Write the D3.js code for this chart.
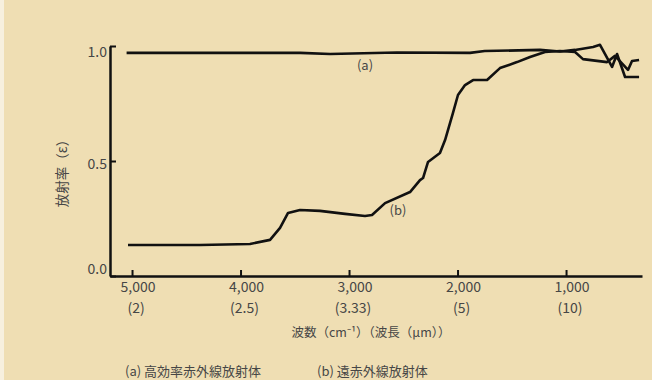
<!DOCTYPE html>
<html>
<head>
<meta charset="utf-8">
<script src="https://cdn.jsdelivr.net/npm/d3@7/dist/d3.min.js"></script>
<style>
  body { margin: 0; background: #efdeb3; }
  svg { display: block; }
  .num { font-family: "Liberation Sans Narrow", "Noto Sans CJK JP", sans-serif; font-size: 14px; fill: #464646; }
  .jp { font-family: "Noto Sans CJK JP", sans-serif; font-size: 13px; fill: #464646; }
</style>
</head>
<body>
<script>
// wavenumber ticks (cm-1) and matching wavelengths (um)
var waveTicks = [5000, 4000, 3000, 2000, 1000];
var lambdaLabels = ["(2)", "(2.5)", "(3.33)", "(5)", "(10)"];
var yTicks = [0, 0.5, 1.0];

// (a) 高効率赤外線放射体
var waveA = [5050, 4370, 3450, 3175, 2560, 1885, 1750, 1240, 1056, 917, 751, 687, 576, 530, 456, 327];
var emisA = [0.970, 0.970, 0.970, 0.965, 0.972, 0.970, 0.978, 0.983, 0.976, 0.983, 0.996, 1.005, 0.909, 0.965, 0.865, 0.865];

// (b) 遠赤外線放射体
var waveB = [5037, 4374, 3913, 3728, 3636, 3562, 3452, 3268, 3037, 2853, 2788, 2668, 2438, 2346, 2318, 2272, 2162, 2115, 2042, 1996, 1931, 1857, 1728, 1609, 1452, 1332, 1194, 1056, 917, 844, 622, 549, 429, 392, 327];
var emisB = [0.135, 0.135, 0.139, 0.157, 0.209, 0.274, 0.287, 0.283, 0.270, 0.261, 0.265, 0.317, 0.365, 0.417, 0.426, 0.496, 0.535, 0.591, 0.709, 0.787, 0.830, 0.852, 0.852, 0.904, 0.930, 0.952, 0.974, 0.978, 0.974, 0.943, 0.930, 0.957, 0.896, 0.935, 0.939];

var width = 652, height = 380;
var svg = d3.select("body").append("svg")
    .attr("width", width).attr("height", height);

svg.append("rect").attr("width", width).attr("height", height).attr("fill", "#efdeb3");
svg.append("rect").attr("width", 4).attr("height", height).attr("fill", "#f7f0de");

var x = d3.scaleLinear().domain([5203, 300]).range([110, 642]);
var y = d3.scaleLinear().domain([0, 1]).range([276, 46]);

// x axis
var gx = svg.append("g").attr("transform", "translate(0,276)")
  .call(d3.axisBottom(x).tickValues(waveTicks).tickSizeInner(-6).tickSizeOuter(0).tickFormat(function(){ return ""; }));
gx.selectAll("path, line").attr("stroke", "#111").attr("stroke-width", 2);
gx.select(".domain").attr("stroke-width", 2.5);

svg.selectAll("text.wn").data(waveTicks).enter().append("text")
  .attr("class", "num")
  .attr("x", function(d){ return x(d) + 6; })
  .attr("y", 292)
  .attr("text-anchor", "middle")
  .text(function(d){ return d3.format(",")(d); });

svg.selectAll("text.wl").data(lambdaLabels).enter().append("text")
  .attr("class", "num")
  .attr("x", function(d, i){ return x(waveTicks[i]) + 4; })
  .attr("y", 313)
  .attr("text-anchor", "middle")
  .text(function(d){ return d; });

// y axis
var gy = svg.append("g").attr("transform", "translate(110,0)")
  .call(d3.axisLeft(y).tickValues(yTicks).tickSizeInner(-6).tickSizeOuter(0).tickPadding(3).tickFormat(d3.format(".1f")));
gy.selectAll("path, line").attr("stroke", "#111").attr("stroke-width", 2);
gy.select(".domain").attr("stroke-width", 2.5);
gy.selectAll("text").attr("class", "num").attr("fill", null)
  .attr("dy", function(d){ return d === 0 ? "-0.2em" : (d === 1 ? "0.72em" : "0.52em"); });
gy.attr("font-family", null).attr("font-size", null);
gx.attr("font-family", null).attr("font-size", null);

// curves
var line = d3.line()
  .x(function(d){ return x(d[0]); })
  .y(function(d){ return y(d[1]); });

svg.append("path")
  .datum(d3.zip(waveA, emisA))
  .attr("d", line)
  .attr("fill", "none").attr("stroke", "#111").attr("stroke-width", 2.6)
  .attr("stroke-linejoin", "round");

svg.append("path")
  .datum(d3.zip(waveB, emisB))
  .attr("d", line)
  .attr("fill", "none").attr("stroke", "#111").attr("stroke-width", 2.6)
  .attr("stroke-linejoin", "round");

// curve tags
svg.append("text").attr("class", "num").attr("x", 365).attr("y", 70)
  .attr("text-anchor", "middle").style("font-size", "13px").text("(a)");
svg.append("text").attr("class", "num").attr("x", 398).attr("y", 215)
  .attr("text-anchor", "middle").style("font-size", "13px").text("(b)");

// axis titles
svg.append("text").attr("class", "jp")
  .attr("transform", "translate(67,170) rotate(-90)")
  .attr("text-anchor", "middle")
  .style("font-size", "13.5px")
  .text("放射率（ε）");

svg.append("text").attr("class", "jp")
  .attr("x", 371).attr("y", 337)
  .attr("text-anchor", "middle")
  .style("font-size", "12.5px")
  .text("波数（cm⁻¹）（波長（μm））");

// legend
svg.append("text").attr("class", "jp").attr("x", 125).attr("y", 376).text("(a)  高効率赤外線放射体");
svg.append("text").attr("class", "jp").attr("x", 317).attr("y", 376).text("(b)  遠赤外線放射体");
</script>
</body>
</html>
